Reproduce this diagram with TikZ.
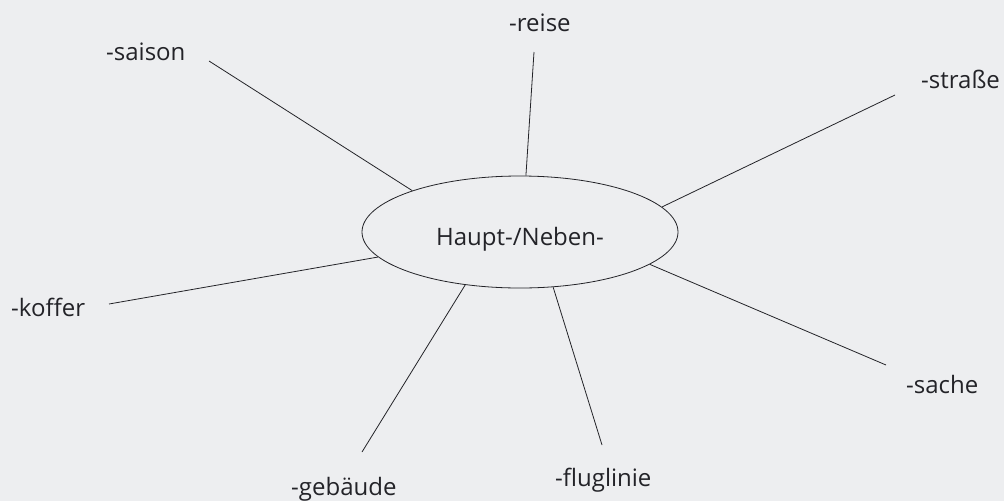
\documentclass[tikz,border=0pt]{standalone}
\usepackage{fontspec}
\setmainfont{Open Sans}
\usetikzlibrary{shapes.geometric}
\definecolor{paper}{RGB}{237,238,240}
\definecolor{ink}{RGB}{35,35,40}
\tikzstyle{spoke} = [draw=ink, line width=0.8pt]
\tikzstyle{word} = [anchor=base west, inner sep=0pt, text=ink]

\begin{document}
\begin{tikzpicture}[x=1pt, y=-1pt, every node/.style={font=\fontsize{24}{28}\selectfont}]
	\fill[paper] (0,0) rectangle (1004,501);
	\useasboundingbox (0,0) rectangle (1004,501);
	\node[ellipse, draw=ink, line width=0.8pt, text=ink,
		minimum width=316pt, minimum height=112pt, inner sep=0pt,
		text height=26pt, text depth=0pt] (hub) at (520,232) {Haupt-/Neben-};
	\node[word] (saison) at (106,60) {-saison};
	\node[word] (reise) at (509,31) {-reise};
	\node[word] (strasse) at (921,88) {-straße};
	\node[word] (koffer) at (11,316) {-koffer};
	\node[word] (gebaeude) at (291,495) {-gebäude};
	\node[word] (fluglinie) at (555,486) {-fluglinie};
	\node[word] (sache) at (906,393) {-sache};
	\coordinate (saisonEnd) at (209,61);
	\coordinate (reiseEnd) at (534,52);
	\coordinate (strasseEnd) at (895,95);
	\coordinate (kofferEnd) at (109,304);
	\coordinate (gebaeudeEnd) at (362,452);
	\coordinate (fluglinieEnd) at (602,445);
	\coordinate (sacheEnd) at (886,365);
	\draw[spoke] (saisonEnd) -- (hub.159.4);
	\draw[spoke] (reiseEnd) -- (hub.84);
	\draw[spoke] (strasseEnd) -- (hub.10.6);
	\draw[spoke] (kofferEnd) -- (hub.190.6);
	\draw[spoke] (gebaeudeEnd) -- (hub.224.2);
	\draw[spoke] (fluglinieEnd) -- (hub.301.5);
	\draw[spoke] (sacheEnd) -- (hub.346.3);
\end{tikzpicture}
\end{document}
